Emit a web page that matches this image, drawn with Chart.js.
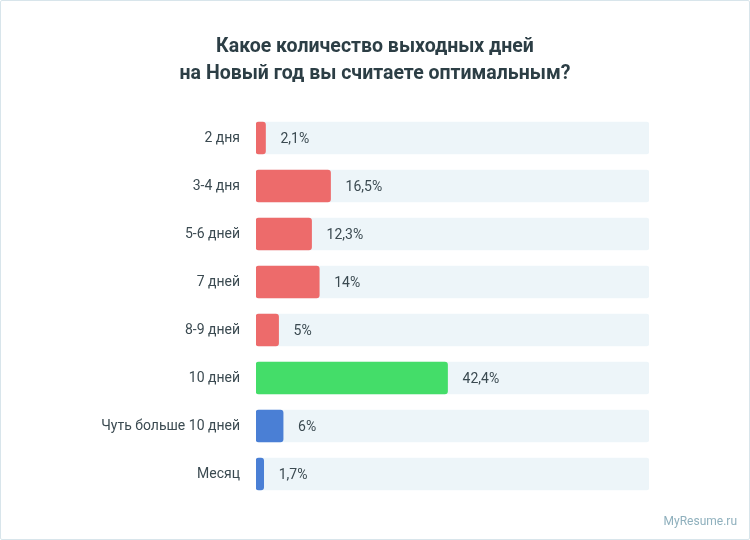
<!DOCTYPE html>
<html>
<head>
<meta charset="utf-8">
<script src="https://cdn.jsdelivr.net/npm/chart.js@4/dist/chart.umd.min.js"></script>
<style>
  html, body { margin: 0; padding: 0; background: #ffffff; }
  #wrap { position: relative; width: 750px; height: 540px; }
  #frame { position: absolute; left: 0; top: 0; width: 748px; height: 538px; border: 1px solid #d8e5eb; border-radius: 2px; pointer-events: none; }
  #mark { position: absolute; right: 13px; top: 514px; font: 12px Roboto, sans-serif; color: #8fb0bd; }
</style>
</head>
<body>
<div id="wrap">
  <canvas id="c" width="750" height="540"></canvas>
  <div id="frame"></div>
  <div id="mark">MyResume.ru</div>
</div>
<script>
const categories = ["2 дня", "3-4 дня", "5-6 дней", "7 дней", "8-9 дней", "10 дней", "Чуть больше 10 дней", "Месяц"];
const values = [2.1, 16.5, 12.3, 14, 5, 42.4, 6, 1.7];
const barColors = ["#ed6b6b", "#ed6b6b", "#ed6b6b", "#ed6b6b", "#ed6b6b", "#44dd69", "#4a7fd5", "#4a7fd5"];
const scaleMax = 87;
const trackValues = categories.map(() => scaleMax);
const titleLines = ["Какое количество выходных дней", "на Новый год вы считаете оптимальным?"];

const valueLabels = {
  id: 'valueLabels',
  afterDatasetsDraw(chart) {
    const ctx = chart.ctx;
    const meta = chart.getDatasetMeta(0);
    ctx.save();
    ctx.font = '14px Roboto, sans-serif';
    ctx.fillStyle = '#3b4a51';
    ctx.textAlign = 'left';
    ctx.textBaseline = 'middle';
    meta.data.forEach((bar, i) => {
      const txt = String(values[i]).replace('.', ',') + '%';
      ctx.fillText(txt, bar.x + 15, bar.y + 1);
    });
    ctx.restore();
  }
};

const centerTitle = {
  id: 'centerTitle',
  afterDraw(chart) {
    const ctx = chart.ctx;
    ctx.save();
    ctx.font = 'bold 19.5px Roboto, sans-serif';
    ctx.fillStyle = '#2c3e45';
    ctx.textAlign = 'center';
    ctx.textBaseline = 'middle';
    titleLines.forEach((line, i) => ctx.fillText(line, chart.width / 2, 47 + i * 27));
    ctx.restore();
  }
};

new Chart(document.getElementById('c'), {
  type: 'bar',
  data: {
    labels: categories,
    datasets: [
      {
        data: values,
        backgroundColor: barColors,
        borderRadius: 3,
        borderSkipped: false,
        barThickness: 32,
        grouped: false,
        order: 0
      },
      {
        data: trackValues,
        backgroundColor: '#edf5f9',
        borderRadius: 3,
        borderSkipped: false,
        barThickness: 32,
        grouped: false,
        order: 1
      }
    ]
  },
  options: {
    indexAxis: 'y',
    responsive: false,
    animation: false,
    devicePixelRatio: 1,
    layout: { padding: { left: 0, right: 101, top: 114, bottom: 42 } },
    plugins: {
      legend: { display: false },
      tooltip: { enabled: false },
      title: { display: false }
    },
    scales: {
      x: { display: false, min: 0, max: scaleMax },
      y: {
        grid: { display: false },
        border: { display: false },
        ticks: { color: '#3b4a51', font: { family: 'Roboto, sans-serif', size: 14 }, padding: 8 },
        afterFit(scale) { scale.width = 256; }
      }
    }
  },
  plugins: [valueLabels, centerTitle]
});
</script>
</body>
</html>
